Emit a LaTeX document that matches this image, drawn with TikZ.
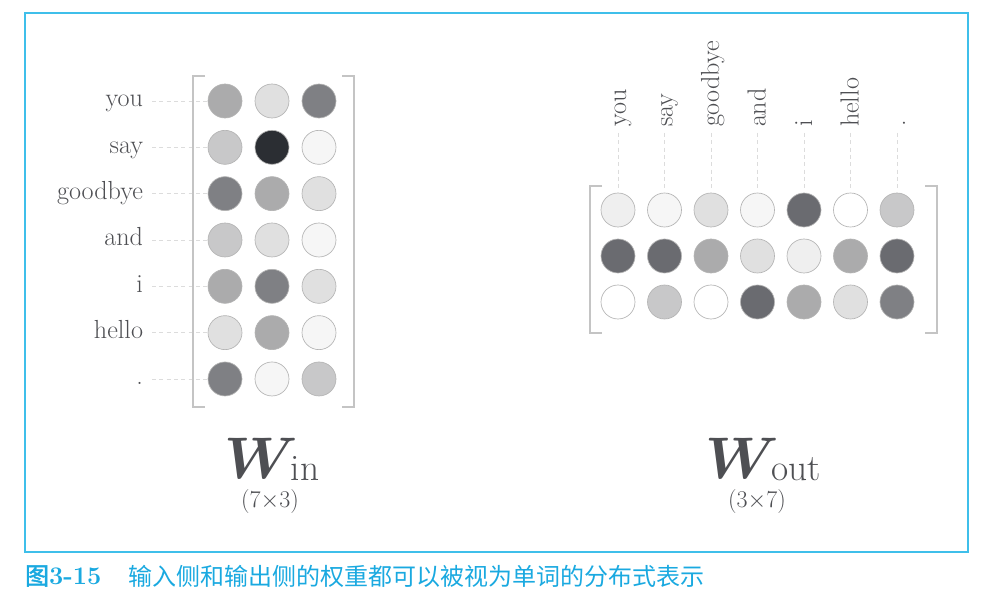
\RequirePackage{fix-cm}
\documentclass[tikz,border=0pt]{standalone}
\usepackage{amsmath,bm}
\usepackage{fontspec}
\newfontfamily\cjk{Noto Sans CJK SC}
\newfontfamily\cjkb[FakeBold=2]{Noto Sans CJK SC}
\usetikzlibrary{calc}
\definecolor{framec}{HTML}{3FBFEA}
\definecolor{capc}{HTML}{1AA9E0}
\definecolor{txt}{HTML}{4E4F53}
\definecolor{circb}{HTML}{B4B4B4}
\definecolor{dashc}{HTML}{DCDCDC}
\definecolor{brkc}{HTML}{C4C4C4}
\definecolor{g0}{HTML}{FFFFFF}
\definecolor{g1}{HTML}{F6F6F6}
\definecolor{gA}{HTML}{EFEFEF}
\definecolor{g2}{HTML}{E0E0E0}
\definecolor{g3}{HTML}{C8C8C9}
\definecolor{g4}{HTML}{ABABAC}
\definecolor{g5}{HTML}{7F8084}
\definecolor{g6}{HTML}{6A6B70}
\definecolor{g7}{HTML}{2B2E33}
\newcommand{\wsub}[1]{\kern-5.5pt\raisebox{-1.5pt}{\fontsize{28}{30}\selectfont #1}}
\begin{document}
\begin{tikzpicture}[x=0.75pt,y=0.75pt,
  every node/.style={inner sep=0pt,outer sep=0pt},
  dot/.style={circle,draw=circb,line width=0.5pt,minimum size=25.5pt},
  lbl/.style={text=txt,font=\fontsize{19.6}{22}\selectfont},
  dashline/.style={draw=dashc,line width=0.6pt,dash pattern=on 3pt off 2.5pt},
  brk/.style={draw=brkc,line width=0.8pt},
  wlbl/.style={text=txt,font=\fontsize{44}{50}\selectfont},
  dimlbl/.style={text=txt,font=\fontsize{18}{20}\selectfont}]
\useasboundingbox (0,0) rectangle (995,-598);
\draw[framec,line width=0.8pt] (25,-13) rectangle (968,-552);

% ---- W_in ----
\foreach \r/\w/\ca/\cb/\cc in {1/you/g4/g2/g5,2/say/g3/g7/g1,3/goodbye/g5/g4/g2,4/and/g3/g2/g1,5/i/g4/g5/g2,6/hello/g2/g4/g1,7/./g5/g1/g3}{
  \pgfmathsetmacro{\yy}{101+(\r-1)*46.33}
  \node[dot,fill=\ca] (in-\r-1) at (225,-\yy) {};
  \node[dot,fill=\cb] (in-\r-2) at (272,-\yy) {};
  \node[dot,fill=\cc] (in-\r-3) at (319,-\yy) {};
  \node[lbl,anchor=base east] (inl-\r) at (143,-\yy-6) {\w};
  \draw[dashline] (152,-\yy) -- (in-\r-1.west);
}
\draw[brk] (205,-76) -- (193,-76) -- (193,-407) -- (205,-407);
\draw[brk] (342,-76) -- (354,-76) -- (354,-407) -- (342,-407);
\node[wlbl,anchor=base] (win) at (272,-478) {$\bm{W}$\wsub{in}};
\node[dimlbl,anchor=base] (dimin) at (270,-507) {(7$\times$3)};

% ---- W_out ----
\foreach \c/\w/\ca/\cb/\cc in {1/you/gA/g6/g0,2/say/g1/g6/g3,3/goodbye/g2/g4/g0,4/and/g1/g2/g6,5/i/g6/gA/g4,6/hello/g0/g4/g2,7/./g3/g6/g5}{
  \pgfmathsetmacro{\xx}{618+(\c-1)*46.5}
  \node[dot,fill=\ca] (out-1-\c) at (\xx,-210) {};
  \node[dot,fill=\cb] (out-2-\c) at (\xx,-256) {};
  \node[dot,fill=\cc] (out-3-\c) at (\xx,-302) {};
  \node[lbl,anchor=base west,rotate=90] (outl-\c) at (\xx+8,-127) {\w};
  \coordinate (outd-\c) at (\xx,-189);
  \draw[dashline] (\xx,-133) -- (outd-\c);
}
\draw[brk] (602,-186) -- (590,-186) -- (590,-333) -- (602,-333);
\draw[brk] (925,-186) -- (937,-186) -- (937,-333) -- (925,-333);
\node[wlbl,anchor=base] (wout) at (763,-478) {$\bm{W}$\wsub{out}};
\node[dimlbl,anchor=base] (dimout) at (757,-507) {(3$\times$7)};

% ---- caption ----
\node[anchor=west,text=capc] (capnum) at (25,-576) {{\fontsize{18}{20}\selectfont\cjkb 图}{\fontsize{19}{20}\selectfont\bfseries 3-15}};
\node[anchor=west,text=capc] (captxt) at (128,-576) {\fontsize{18}{20}\selectfont\cjk 输入侧和输出侧的权重都可以被视为单词的分布式表示};
\end{tikzpicture}
\end{document}
